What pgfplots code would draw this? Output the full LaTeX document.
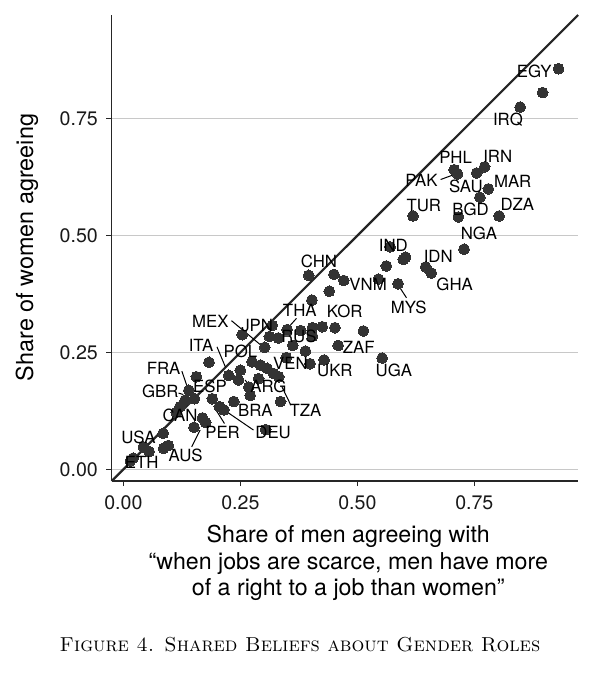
\documentclass[border=0pt]{standalone}
\usepackage{fontspec}
\usepackage{pgfplots}
\usepackage{pgfplotstable}
\pgfplotsset{compat=1.18}
\newfontfamily\heros{TeX Gyre Heros}
\definecolor{dotc}{HTML}{333333}
\definecolor{gridc}{HTML}{C8C8C8}

\pgfplotstableread{
x y
0.930 0.857
0.896 0.806
0.848 0.775
0.707 0.641
0.714 0.632
0.755 0.634
0.772 0.647
0.780 0.600
0.762 0.582
0.619 0.542
0.716 0.540
0.803 0.542
0.728 0.471
0.570 0.476
0.603 0.454
0.598 0.449
0.562 0.435
0.646 0.433
0.658 0.420
0.545 0.407
0.587 0.397
0.396 0.415
0.450 0.417
0.471 0.404
0.440 0.381
0.403 0.362
0.318 0.308
0.312 0.284
0.331 0.281
0.350 0.299
0.379 0.297
0.404 0.303
0.425 0.305
0.452 0.303
0.513 0.296
0.404 0.285
0.362 0.265
0.389 0.253
0.459 0.265
0.429 0.234
0.553 0.238
0.399 0.226
0.348 0.239
0.302 0.261
0.254 0.288
0.183 0.229
0.156 0.198
0.275 0.230
0.293 0.223
0.307 0.216
0.321 0.205
0.332 0.198
0.250 0.212
0.225 0.201
0.246 0.191
0.268 0.176
0.271 0.158
0.236 0.145
0.190 0.151
0.205 0.134
0.215 0.127
0.336 0.145
0.304 0.085
0.140 0.169
0.152 0.151
0.132 0.148
0.121 0.134
0.113 0.122
0.169 0.110
0.176 0.100
0.151 0.090
0.085 0.077
0.043 0.048
0.055 0.038
0.086 0.045
0.096 0.051
0.021 0.024
0.015 0.018
0.289 0.194
}\ptsdata

\pgfplotstableread{
x y label
0.878 0.852 EGY
0.822 0.748 IRQ
0.710 0.668 PHL
0.800 0.669 IRN
0.637 0.618 PAK
0.732 0.605 SAU
0.832 0.617 MAR
0.642 0.565 TUR
0.742 0.556 BGD
0.842 0.567 DZA
0.760 0.504 NGA
0.577 0.479 IND
0.673 0.456 IDN
0.708 0.395 GHA
0.523 0.395 VNM
0.610 0.347 MYS
0.418 0.444 CHN
0.473 0.337 KOR
0.377 0.340 THA
0.503 0.261 ZAF
0.452 0.211 UKR
0.578 0.211 UGA
0.186 0.317 MEX
0.286 0.308 JPN
0.375 0.285 RUS
0.166 0.266 ITA
0.250 0.253 POL
0.357 0.226 VEN
0.185 0.178 ESP
0.310 0.178 ARG
0.282 0.127 BRA
0.389 0.127 TZA
0.086 0.215 FRA
0.079 0.166 GBR
0.121 0.116 CAN
0.032 0.068 USA
0.133 0.029 AUS
0.039 0.015 ETH
0.212 0.078 PER
0.320 0.078 DEU
}\labdata

\begin{document}
\begin{tikzpicture}
\begin{axis}[
  scale only axis,
  width=233.25pt, height=233pt,
  xmin=-0.025, xmax=0.972,
  ymin=-0.025, ymax=0.972,
  axis lines=left,
  axis line style={-, line width=0.8pt, color=black!85},
  clip=false,
  xtick={0,0.25,0.5,0.75},
  ytick={0,0.25,0.5,0.75},
  tick align=outside,
  major tick length=2.6pt,
  tick style={line width=0.7pt, color=black!85},
  ymajorgrids,
  grid style={line width=0.6pt, color=gridc},
  /pgf/number format/assume math mode=true,
  /pgf/number format/fixed,
  /pgf/number format/fixed zerofill,
  /pgf/number format/precision=2,
  every tick label/.append style={font=\heros\fontsize{9.8}{11.5}\selectfont, text=black!90},
  xticklabel style={yshift=-1.2pt},
  yticklabel style={xshift=-0.8pt},
  ylabel={Share of women agreeing},
  every axis y label/.style={at={(axis description cs:-0.1816,0.501)}, rotate=90, anchor=center, font=\heros\fontsize{11.7}{14}\selectfont},
]
\addplot[line width=1.1pt, color=black!85] coordinates {(-0.025,-0.025) (0.972,0.972)};
\addplot[only marks, mark=*, mark size=2.7pt, mark options={fill=dotc, draw=dotc, line width=0pt}] table[x=x,y=y] {\ptsdata};
% leader lines
\draw[line width=0.5pt, black] (axis cs:0.678,0.620) -- (axis cs:0.708,0.631);
\draw[line width=0.5pt, black] (axis cs:0.592,0.387) -- (axis cs:0.605,0.367);
\draw[line width=0.5pt, black] (axis cs:0.370,0.323) -- (axis cs:0.352,0.303);
\draw[line width=0.5pt, black] (axis cs:0.231,0.318) -- (axis cs:0.297,0.263);
\draw[line width=0.5pt, black] (axis cs:0.200,0.262) -- (axis cs:0.218,0.219);
\draw[line width=0.5pt, black] (axis cs:0.125,0.210) -- (axis cs:0.139,0.169);
\draw[line width=0.5pt, black] (axis cs:0.118,0.163) -- (axis cs:0.128,0.160);
\draw[line width=0.5pt, black] (axis cs:0.146,0.048) -- (axis cs:0.164,0.084);
\draw[line width=0.5pt, black] (axis cs:0.196,0.130) -- (axis cs:0.216,0.098);
\draw[line width=0.5pt, black] (axis cs:0.221,0.123) -- (axis cs:0.278,0.084);
\draw[line width=0.5pt, black] (axis cs:0.339,0.176) -- (axis cs:0.358,0.137);
\draw[line width=0.5pt, black] (axis cs:0.260,0.191) -- (axis cs:0.268,0.181);
\addplot[only marks, mark=none, point meta=explicit symbolic,
  nodes near coords,
  every node near coord/.append style={anchor=center, inner sep=0pt, font=\heros\fontsize{8.4}{10}\selectfont, text=black}]
  table[x=x, y=y, meta=label] {\labdata};
\end{axis}
\node[anchor=base, font=\heros\fontsize{11.6}{14}\selectfont] at (118.3pt,-30.9pt) {Share of men agreeing with};
\node[anchor=base, font=\heros\fontsize{11.6}{14}\selectfont] at (118.3pt,-44.1pt) {“when jobs are scarce, men have more};
\node[anchor=base, font=\heros\fontsize{11.6}{14}\selectfont] at (118.3pt,-57.0pt) {of a right to a job than women”};
\node[anchor=base, font=\fontsize{10.1}{12}\selectfont\scshape] at (94.15pt,-85.35pt) {Figure 4. Shared Beliefs about Gender Roles};
\pgfresetboundingbox
\path[use as bounding box] (-55.85pt,-99.5pt) rectangle (244.65pt,240.5pt);
\end{tikzpicture}
\end{document}
